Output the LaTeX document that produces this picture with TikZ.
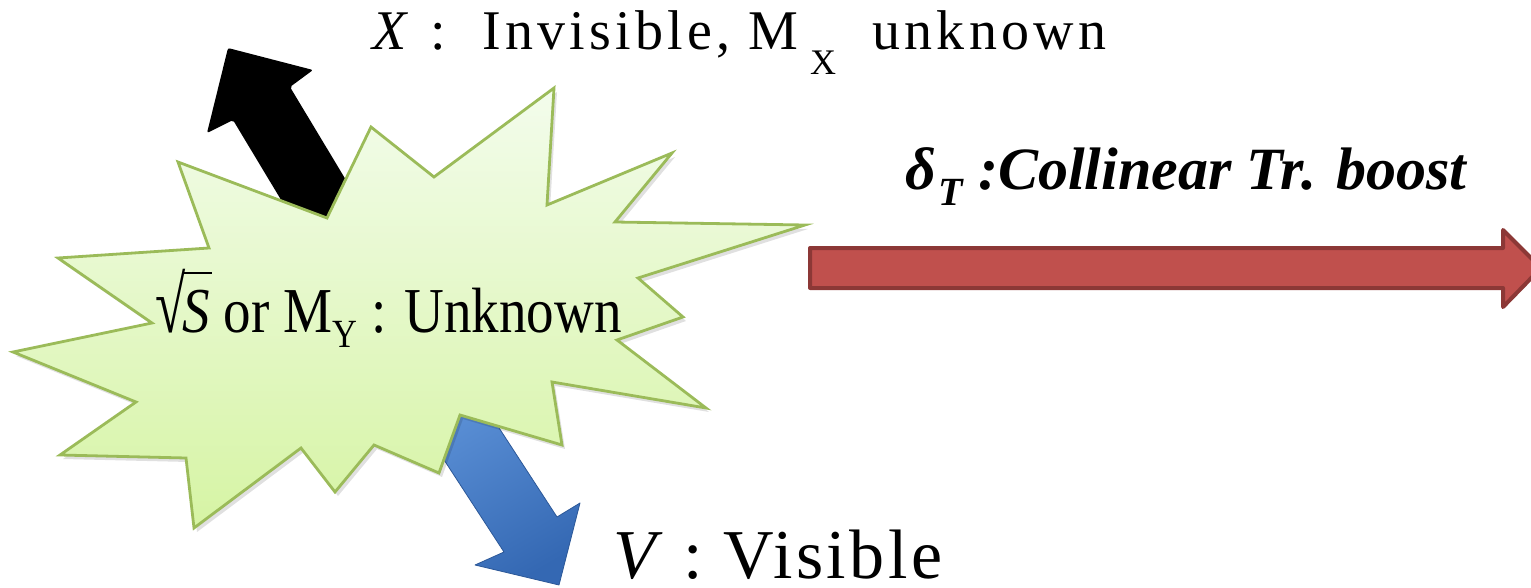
\documentclass[tikz,border=0pt]{standalone}
\usepackage{graphicx}
\usepackage{fontspec}
\setmainfont{Liberation Serif}
\definecolor{starline}{HTML}{9BBB59}
\definecolor{startop}{HTML}{F3FCEC}
\definecolor{starbot}{HTML}{D6F4A4}
\definecolor{redfill}{HTML}{C0504D}
\definecolor{redline}{HTML}{8C3836}
\definecolor{bluelight}{HTML}{5B90D6}
\definecolor{bluedark}{HTML}{3468B3}
\tikzset{
  lbl/.style={anchor=base west, inner sep=0pt, outer sep=0pt},
  starshape/.style={draw=starline, line width=2.8pt, line join=miter, top color=startop, bottom color=starbot},
  bigarrow/.style={line join=round},
}
\begin{document}
\begin{tikzpicture}[x=1pt,y=-1pt]
\useasboundingbox (0,0) rectangle (1531,588);
\clip (0,0) rectangle (1531,588);
% red arrow
\draw[bigarrow, fill=redfill, draw=redline, line width=4pt]
  (810,248) -- (1503,248) -- (1503,230) -- (1541,268) -- (1503,307) -- (1503,288) -- (810,288) -- cycle;
% black arrow
\fill[rounded corners=2pt] (228,48) -- (313,70) -- (290,87) -- (367,215) -- (310,248) -- (233,120) -- (207,133) -- cycle;
% blue arrow
\shade[bigarrow, left color=bluelight, right color=bluedark, shading angle=30, draw=bluedark!85!black, line width=0.8pt]
  (559,585) -- (475,565) -- (504,552) -- (422,426) -- (475,391) -- (557,517) -- (580,503) -- cycle;
% star shadow
\fill[black, opacity=0.12] [shift={(3,4)}]
  (178,162) -- (327,218) -- (371,127) -- (434,177) -- (554,88) -- (547,205) -- (672,153) -- (615,222) -- (805,225) -- (638,278) -- (683,317) -- (617,340) -- (706,408) -- (552,382) -- (562,445) -- (460,415) -- (439,473) -- (374,445) -- (335,492) -- (301,448) -- (194,528) -- (186,458) -- (60,455) -- (136,402) -- (13,352) -- (152,323) -- (58,258) -- (209,248) -- cycle;
% star
\shade[starshape]
  (178,162) -- (327,218) -- (371,127) -- (434,177) -- (554,88) -- (547,205) -- (672,153) -- (615,222) -- (805,225) -- (638,278) -- (683,317) -- (617,340) -- (706,408) -- (552,382) -- (562,445) -- (460,415) -- (439,473) -- (374,445) -- (335,492) -- (301,448) -- (194,528) -- (186,458) -- (60,455) -- (136,402) -- (13,352) -- (152,323) -- (58,258) -- (209,248) -- cycle;
% texts
\node[lbl, font={\fontsize{56}{60}\selectfont\addfontfeature{LetterSpace=7.5}}] (xlab) at (372,50)
  {\textit{X} :\ \ Invisible, M\kern 12pt\raisebox{-25pt}{\fontsize{36}{36}\selectfont X}\ \ unknown};
\node[lbl, font={\fontsize{60}{62}\selectfont\bfseries\itshape}] (dlab) at (905,190)
  {δ\kern3pt\raisebox{-16pt}{\fontsize{40}{40}\selectfont T} :Collinear Tr. boost};
\node[lbl, font={\fontsize{70}{72}\selectfont\addfontfeature{LetterSpace=5}}] (vlab) at (613,578)
  {\textit{V}\kern-4pt\ : Visible};
\node[lbl, font={\fontsize{64}{66}\selectfont}] (slab) at (155,332)
  {\scalebox{0.86}[1]{\scalebox{1}[1.25]{√}\kern-3pt\rlap{\rule[58pt]{34pt}{2.5pt}}\textit{S} or M\raisebox{-15pt}{\fontsize{40}{40}\selectfont Y}\ : Unknown}};
\end{tikzpicture}
\end{document}
